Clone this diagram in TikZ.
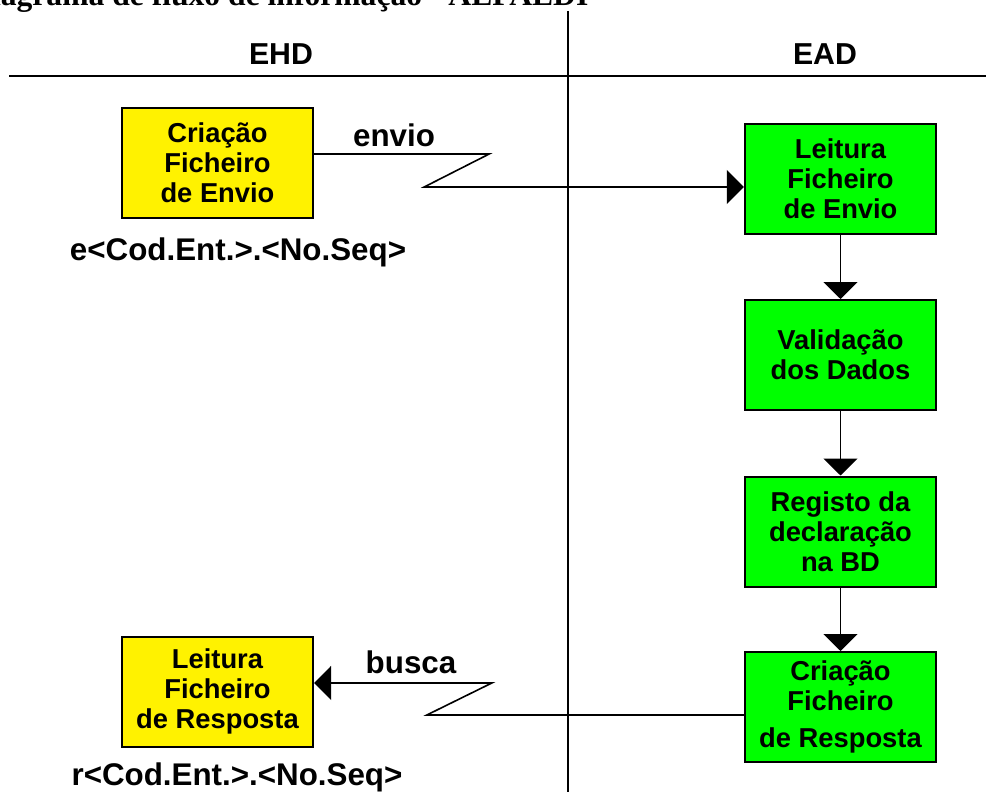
\documentclass[tikz,border=0pt]{standalone}
\usepackage{fontspec}
\setmainfont{Liberation Sans}
\newfontfamily\titlefont{Liberation Serif}
\usetikzlibrary{arrows.meta}

\begin{document}
\begin{tikzpicture}[x=0.75pt, y=-0.75pt,
    ehdbox/.style={draw, line width=1.5pt, fill=yellow, minimum width=143.5pt, minimum height=82.5pt, inner sep=0pt, align=center, font=\fontsize{20.5}{22.5}\selectfont\bfseries},
    eadbox/.style={ehdbox, fill=green},
    flow/.style={line width=1.2pt, -{Triangle[length=12.75pt, width=25.5pt]}},
    lane/.style={line width=1.5pt},
    lbl/.style={font=\fontsize{23.5}{26}\selectfont\bfseries}]
    \useasboundingbox (0, 0) rectangle (986, 792);

    \node [anchor=base west, inner sep=0pt, font=\titlefont\fontsize{23.7}{26}\selectfont\bfseries] (title) at (-31, 5.5) {Diagrama de fluxo de informação - AEPAEDI};

    \coordinate (laneW) at (9, 76);
    \coordinate (laneE) at (986, 76);
    \coordinate (laneT) at (568, 11);
    \coordinate (laneB) at (568, 792);
    \draw [lane] (laneW) -- (laneE);
    \draw [lane] (laneT) -- (laneB);
    \node [lbl, anchor=base, font=\fontsize{22.7}{26}\selectfont\bfseries] (ehd) at (281, 65) {EHD};
    \node [lbl, anchor=base, font=\fontsize{22.7}{26}\selectfont\bfseries] (ead) at (825, 65) {EAD};

    \node [ehdbox] (crEnvio) at (217.5, 163) {Criação\\Ficheiro\\de Envio};
    \node [lbl, anchor=base] (fichE) at (238, 260) {e<Cod.Ent.>.<No.Seq>};
    \node [ehdbox] (leResp) at (217.5, 691.5) {Leitura\\Ficheiro\\de Resposta};
    \node [lbl, anchor=base] (fichR) at (237, 785) {r<Cod.Ent.>.<No.Seq>};

    \node [eadbox] (leEnvio) at (840.5, 179) {Leitura\\Ficheiro\\de Envio};
    \node [eadbox] (valDados) at (840.5, 355) {Validação\\dos Dados};
    \node [eadbox] (regBD) at (840.5, 531.5) {Registo da\\declaração\\na BD};
    \node [eadbox] (crResp) at (840.5, 707) {Criação\\Ficheiro\\[5pt]de Resposta};

    \draw [flow] (leEnvio) -- (valDados);
    \draw [flow] (valDados) -- (regBD);
    \draw [flow] (regBD) -- (crResp);

    \draw [flow] ([yshift=6.75pt]crEnvio.east) -- ++(175, 0) -- ++(-65, 33) -- ([yshift=-6pt]leEnvio.west);
    \node [lbl] (envio) at (394, 135) {envio};
    \draw [flow] ([yshift=-6pt]crResp.west) -- ++(-317, 0) -- ++(65, -32) -- ([yshift=6.4pt]leResp.east);
    \node [lbl] (busca) at (411, 662) {busca};
\end{tikzpicture}
\end{document}
